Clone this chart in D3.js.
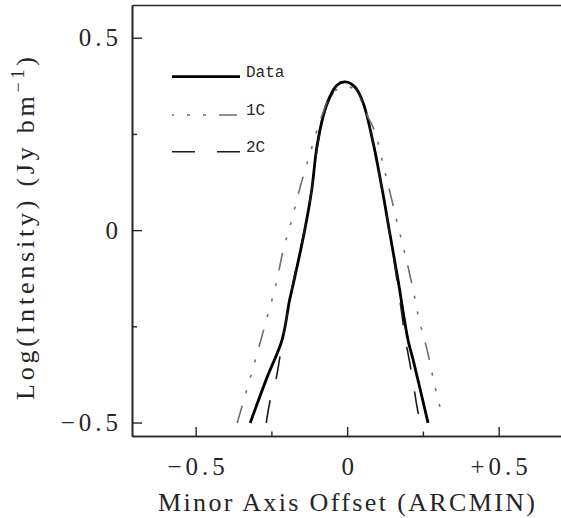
<!DOCTYPE html>
<html><head><meta charset="utf-8">
<script src="https://cdn.jsdelivr.net/npm/d3@7"></script>
<style>body{margin:0;background:#fff}</style>
</head><body>
<svg id="c" width="561" height="518"></svg>
<script>
// ---- data ----
const dataOffset = [-0.320,-0.264,-0.215,-0.190,-0.175,-0.140,-0.117,-0.098,-0.066,-0.033,-0.007,0.026,0.053,0.086,0.116,0.139,0.168,0.201,0.218,0.267];
const dataLogI   = [-0.501,-0.382,-0.286,-0.182,-0.130,0.000,0.104,0.226,0.330,0.377,0.385,0.372,0.330,0.226,0.104,0.000,-0.130,-0.286,-0.338,-0.501];

const oneCOffset = [-0.363,-0.318,-0.274,-0.234,-0.211,-0.183,-0.155,-0.129,-0.096,-0.079,-0.053,-0.033,-0.010,0.017,0.050,0.069,0.092,0.119,0.142,0.168,0.194,0.218,0.238,0.264,0.287,0.313];
const oneCLogI   = [-0.501,-0.379,-0.255,-0.138,-0.052,0.026,0.112,0.182,0.268,0.306,0.351,0.366,0.373,0.369,0.332,0.294,0.255,0.169,0.096,0.010,-0.072,-0.156,-0.234,-0.312,-0.397,-0.481];

const twoCOffset = [-0.267,-0.254,-0.234,-0.221,-0.201,-0.177,-0.141,-0.117,-0.096,-0.066,-0.033,-0.007,0.026,0.056,0.086,0.116,0.139,0.162,0.181,0.191,0.205,0.218,0.230,0.241];
const twoCLogI   = [-0.501,-0.442,-0.384,-0.325,-0.234,-0.130,0.000,0.104,0.226,0.325,0.371,0.382,0.369,0.325,0.226,0.104,0.000,-0.117,-0.221,-0.278,-0.338,-0.397,-0.457,-0.501];

const seriesNames = ["Data","1C","2C"];
const xMajorTicks = [-0.5, 0, 0.5];
const xMajorLabels = ["\u22120.5","0","+0.5"];
const xMinorTicks = [-0.25, 0.25];
const yMajorTicks = [-0.5, 0, 0.5];
const yMajorLabels = ["\u22120.5","0","0.5"];
const yMinorTicks = [-0.25, 0.25];
const xTitle = "Minor Axis Offset (ARCMIN)";

// ---- layout ----
const svg = d3.select("#c");
const x = d3.scaleLinear().domain([-0.71, 0.71]).range([132, 562.3]);
const y = d3.scaleLinear().domain([-0.535, 0.585]).range([436, 5]);
const ink = "#262626";
const serif = "'Liberation Serif', serif";

// frame
const gB = svg.append("g").attr("transform","translate(0,436)")
  .call(d3.axisBottom(x).tickValues(xMajorTicks).tickSize(-9).tickSizeOuter(0).tickPadding(21)
        .tickFormat((d,i)=>xMajorLabels[i]));
svg.append("g").attr("transform","translate(0,436)")
  .call(d3.axisBottom(x).tickValues(xMinorTicks).tickSize(-4.5).tickSizeOuter(0).tickFormat(""));
const gL = svg.append("g").attr("transform","translate(132,0)")
  .call(d3.axisLeft(y).tickValues(yMajorTicks).tickSize(-10).tickSizeOuter(0).tickPadding(14)
        .tickFormat((d,i)=>yMajorLabels[i]));
svg.append("g").attr("transform","translate(132,0)")
  .call(d3.axisLeft(y).tickValues(yMinorTicks).tickSize(-5).tickSizeOuter(0).tickFormat(""));
svg.append("g").attr("transform","translate(0,5)")
  .call(d3.axisTop(x).tickValues([]).tickSizeOuter(0));

svg.selectAll(".domain").attr("stroke", ink).attr("stroke-width", 1.6);
svg.selectAll(".tick line").attr("stroke", ink).attr("stroke-width", 1.4);
svg.selectAll(".tick text").attr("fill", ink).style("font-family", serif)
   .style("font-size","25px").style("letter-spacing","4px");
gB.selectAll(".tick text").attr("dx","2px");
gL.selectAll(".tick text").attr("dx","4px");

// axis titles
svg.append("text").attr("x", 346.5).attr("y", 511).attr("text-anchor","middle")
  .attr("fill", ink).style("font-family", serif).style("font-size","26px")
  .attr("textLength", 377).attr("lengthAdjust","spacing").text(xTitle);

const yt = svg.append("text").attr("transform","translate(34,228.5) rotate(-90)")
  .attr("text-anchor","middle").attr("fill", ink).style("font-family", serif).style("font-size","26px")
  .attr("textLength", 343).attr("lengthAdjust","spacing");
yt.append("tspan").text("Log(Intensity) (Jy bm");
yt.append("tspan").attr("dy","-10").style("font-size","18px").text("\u22121");
yt.append("tspan").attr("dy","10").text(")");

// curves
const line = d3.line().x(d=>x(d[0])).y(d=>y(d[1])).curve(d3.curveCatmullRom.alpha(0.5));
const styles = [
  {xs: dataOffset, ys: dataLogI, stroke:"#000", w:2.8, dash:null},
  {xs: oneCOffset, ys: oneCLogI, stroke:"#6e6e6e", w:1.6, dash:"18,13,3,13,3,13,3,13"},
  {xs: twoCOffset, ys: twoCLogI, stroke:"#1a1a1a", w:1.6, dash:"23,22"}
];
styles.forEach(s=>{
  svg.append("path").datum(s.xs.map((v,i)=>[v, s.ys[i]]))
    .attr("d", line).attr("fill","none").attr("stroke", s.stroke).attr("stroke-width", s.w)
    .attr("stroke-dasharray", s.dash);
});

// legend
const legY = [76.7, 115, 151.7];
const legOffsets = [0, 32, 0];
seriesNames.forEach((n,i)=>{
  const s = styles[i];
  svg.append("line").attr("x1",172).attr("x2",240).attr("y1",legY[i]).attr("y2",legY[i])
    .attr("stroke", s.stroke).attr("stroke-width", s.w).attr("stroke-dasharray", s.dash)
    .attr("stroke-dashoffset", legOffsets[i]);
  svg.append("text").attr("x",246).attr("y",legY[i]).attr("fill", ink)
    .style("font-family","'Liberation Mono', monospace").style("font-size","16px").text(n);
});
</script>
</body></html>
